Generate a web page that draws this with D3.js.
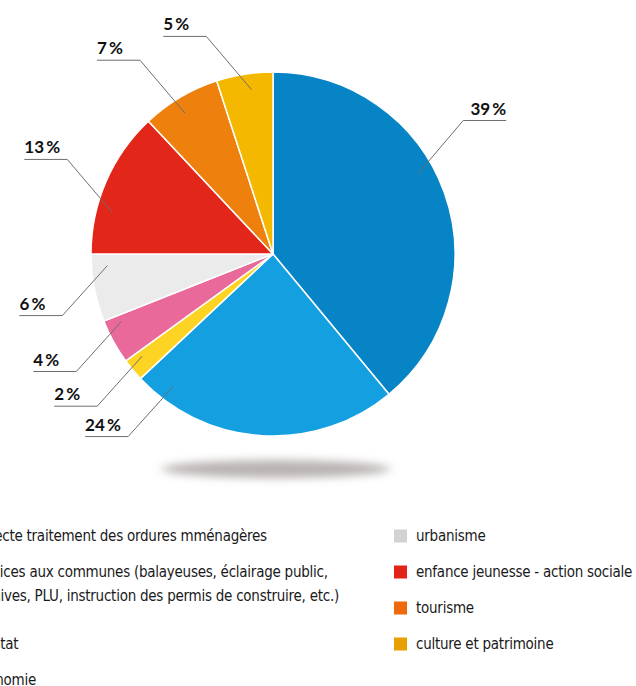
<!DOCTYPE html>
<html lang="fr">
<head>
<meta charset="UTF-8" />
<title>Répartition des dépenses</title>
<script src="https://d3js.org/d3.v7.min.js"></script>
<style>
    body { margin: 0; background: #fff; overflow: hidden; }
    .pct { font-family: "Lato", "Open Sans", sans-serif; font-weight: bold; font-size: 17px; fill: #111; }
    .leg { font-family: "Liberation Sans Narrow", "DejaVu Sans Condensed", "Roboto", sans-serif; font-size: 15px; fill: #1a1a1a; letter-spacing: -0.25px; }
</style>
</head>
<body>
<div id="chart"></div>
<script>
    // slices, clockwise from 12 o'clock
    var categories = ["collecte traitement des ordures mménagères",
                      "services aux communes",
                      "habitat",
                      "économie",
                      "urbanisme",
                      "enfance jeunesse - action sociale",
                      "tourisme",
                      "culture et patrimoine"];
    var values = [39, 24, 2, 4, 6, 13, 7, 5];
    var sliceColors = ["#0784c6", "#14a0e0", "#fdd423", "#e8699a", "#ebebeb", "#e3261a", "#ee800e", "#f5b800"];
    var swatchColors = ["#0784c6", "#14a0e0", "#fdd423", "#e8699a", "#d2d2d2", "#e2231a", "#ec6a0b", "#e8a000"];

    // legend text (left column is cut off by the frame)
    var leftLegend = [
        ["collecte traitement des ordures mménagères"],
        ["services aux communes (balayeuses, éclairage public,", "archives, PLU, instruction des permis de construire, etc.)"],
        ["habitat"],
        ["économie"]
    ];
    var rightLegend = ["urbanisme", "enfance jeunesse - action sociale", "tourisme", "culture et patrimoine"];

    var w = 636, h = 686;
    var cx = 273, cy = 254, r = 182;

    // where each leader line touches its slice (degrees, clockwise from top)
    var labelAngles = [61, 217, 232, 246, 266, 284.5, 328, 352.5];

    var svg = d3.select("#chart").append("svg")
        .attr("width", w)
        .attr("height", h);

    // soft shadow under the pie
    var defs = svg.append("defs");
    defs.append("filter").attr("id", "blur")
        .attr("x", "-20%").attr("y", "-200%").attr("width", "140%").attr("height", "500%")
        .append("feGaussianBlur").attr("stdDeviation", "6 4");
    svg.append("ellipse")
        .attr("cx", cx + 3).attr("cy", 469)
        .attr("rx", 114).attr("ry", 9)
        .attr("fill", "#b9b4b2")
        .attr("filter", "url(#blur)");

    var pie = d3.pie().sort(null).value(function(d) { return d; });
    var arcs = pie(values);
    var arc = d3.arc().innerRadius(0).outerRadius(r);

    var g = svg.append("g").attr("transform", "translate(" + cx + "," + cy + ")");

    g.selectAll("path")
        .data(arcs)
        .enter()
        .append("path")
        .attr("d", arc)
        .attr("fill", function(d, i) { return sliceColors[i]; })
        .attr("stroke", "#fff")
        .attr("stroke-width", 1.5)
        .attr("stroke-linejoin", "round");

    // leader lines + percentage labels
    var lineLen = 43;
    arcs.forEach(function(d, i) {
        var a = labelAngles[i] * Math.PI / 180;
        var ax = Math.sin(a) * 166, ay = -Math.cos(a) * 166;
        var right = Math.sin(a) > 0;
        var up = Math.cos(a) > 0.2 || (right && Math.cos(a) > 0);
        var ex = ax + (right ? 45 : -45);
        var ey = ay + (up ? -53 : 50);
        var hx = ex + (right ? lineLen : -lineLen);

        g.append("polyline")
            .attr("points", [[ax, ay], [ex, ey], [hx, ey]].map(function(p) { return p.join(","); }).join(" "))
            .attr("fill", "none")
            .attr("stroke", "#6e6e6e")
            .attr("stroke-width", 1);

        g.append("text")
            .attr("class", "pct")
            .attr("x", hx)
            .attr("y", ey - 6)
            .attr("text-anchor", right ? "end" : "start")
            .text(values[i] + "\u2009%");
    });

    // legend
    var sw = 13, rowH = 36, legTop = 536;

    var leftX = -28;
    var slot = 0;
    leftLegend.forEach(function(lines, i) {
        var y = legTop + slot * rowH;
        svg.append("rect")
            .attr("x", leftX - 22).attr("y", y - sw / 2)
            .attr("width", sw).attr("height", sw)
            .attr("fill", swatchColors[i]);
        lines.forEach(function(t, j) {
            svg.append("text")
                .attr("class", "leg")
                .attr("x", leftX)
                .attr("y", y + j * 24 + 5)
                .text(t);
        });
        slot += lines.length;
    });

    var rightX = 416;
    rightLegend.forEach(function(t, i) {
        var y = legTop + i * rowH;
        svg.append("rect")
            .attr("x", rightX - 22).attr("y", y - sw / 2)
            .attr("width", sw).attr("height", sw)
            .attr("fill", swatchColors[i + 4]);
        svg.append("text")
            .attr("class", "leg")
            .attr("x", rightX)
            .attr("y", y + 5)
            .text(t);
    });
</script>
</body>
</html>
